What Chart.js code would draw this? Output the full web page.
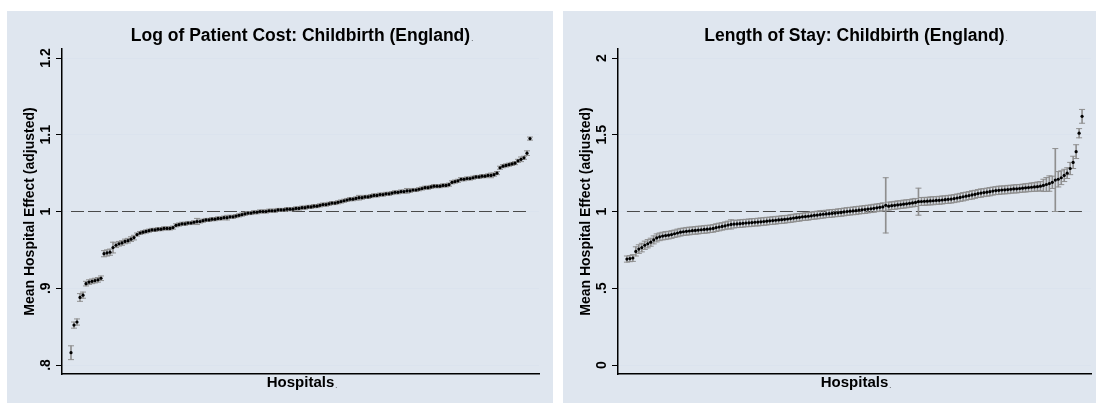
<!DOCTYPE html>
<html>
<head>
<meta charset="utf-8">
<script src="https://cdn.jsdelivr.net/npm/chart.js@4.4.0/dist/chart.umd.min.js"></script>
<style>
  html, body { margin: 0; padding: 0; background: #ffffff; }
  body { width: 1096px; height: 403px; position: relative; overflow: hidden; }
  .panel { position: absolute; top: 11px; height: 392px; background: #dfe6ef; }
  #costPanel { left: 7px; width: 546px; }
  #stayPanel { left: 563px; width: 533px; }
</style>
</head>
<body>
<div class="panel" id="costPanel"><canvas id="costChart"></canvas></div>
<div class="panel" id="stayPanel"><canvas id="stayChart"></canvas></div>
<script>
// Hospital effects, sorted by mean (one value per hospital)
const costMean = [
    0.816, 0.852, 0.856, 0.888, 0.891, 0.906, 0.908, 0.909, 0.910, 0.911, 0.913,
    0.945, 0.946, 0.947,
    0.953, 0.956, 0.958, 0.959, 0.961, 0.962, 0.964, 0.966,
    0.970, 0.972, 0.973, 0.974, 0.975, 0.976, 0.976, 0.977, 0.977, 0.978, 0.978, 0.978, 0.979,
    0.982, 0.983, 0.984, 0.984, 0.985, 0.985, 0.986, 0.987, 0.987, 0.988, 0.989, 0.989, 0.990,
    0.990, 0.991, 0.991, 0.992, 0.992, 0.993, 0.993, 0.994, 0.995, 0.996, 0.997, 0.998,
    0.998, 0.999, 0.999, 1.000, 1.000, 1.000, 1.001, 1.001, 1.001, 1.002, 1.002, 1.002,
    1.003, 1.003, 1.003, 1.004,
    1.004, 1.005, 1.005, 1.006, 1.006, 1.007, 1.007, 1.008, 1.009, 1.009, 1.010, 1.011,
    1.011, 1.012, 1.013, 1.014, 1.015,
    1.016, 1.016, 1.017, 1.018, 1.018, 1.019, 1.019, 1.020, 1.021, 1.021, 1.022, 1.022,
    1.023, 1.023, 1.024, 1.025, 1.025,
    1.026, 1.026, 1.027, 1.027, 1.028, 1.028, 1.029, 1.030, 1.031, 1.031, 1.032,
    1.033, 1.033, 1.033, 1.034, 1.034, 1.035, 1.038, 1.039, 1.040,
    1.042, 1.042, 1.043, 1.043, 1.044, 1.045, 1.045, 1.046, 1.046, 1.047, 1.047, 1.048,
    1.050, 1.057, 1.059, 1.060, 1.061, 1.062, 1.063, 1.066, 1.068, 1.070, 1.076, 1.095
];
// half-width of the confidence interval
const costErr = [
    0.009, 0.004, 0.004, 0.005, 0.004, 0.003, 0.003, 0.003, 0.003, 0.003, 0.003,
    0.004, 0.004, 0.004,
    0.007, 0.003, 0.003, 0.003, 0.003, 0.003, 0.003, 0.003,
    0.002, 0.002, 0.002, 0.002, 0.002, 0.002, 0.002, 0.002, 0.002, 0.002, 0.002, 0.002, 0.002,
    0.002, 0.002, 0.002, 0.002, 0.002, 0.002, 0.002, 0.004, 0.002, 0.002, 0.002, 0.002, 0.002,
    0.002, 0.002, 0.002, 0.002, 0.003, 0.002, 0.002, 0.002, 0.002, 0.002, 0.002, 0.002,
    0.002, 0.002, 0.002, 0.002, 0.002, 0.002, 0.002, 0.002, 0.002, 0.002, 0.002, 0.002,
    0.002, 0.002, 0.002, 0.002,
    0.002, 0.002, 0.002, 0.002, 0.002, 0.002, 0.002, 0.002, 0.002, 0.002, 0.002, 0.002,
    0.002, 0.002, 0.002, 0.002, 0.002,
    0.002, 0.002, 0.002, 0.003, 0.002, 0.002, 0.002, 0.002, 0.002, 0.002, 0.002, 0.002,
    0.002, 0.002, 0.002, 0.002, 0.002,
    0.002, 0.002, 0.003, 0.002, 0.002, 0.002, 0.002, 0.002, 0.002, 0.002, 0.002,
    0.002, 0.002, 0.002, 0.002, 0.002, 0.002, 0.002, 0.002, 0.002,
    0.002, 0.002, 0.002, 0.002, 0.002, 0.002, 0.002, 0.002, 0.002, 0.002, 0.003, 0.002,
    0.002, 0.002, 0.002, 0.002, 0.002, 0.002, 0.002, 0.002, 0.003, 0.002, 0.003, 0.002
];

const stayMean = [
    0.690, 0.693, 0.697,
    0.740, 0.755, 0.765, 0.780, 0.790, 0.800, 0.815, 0.828,
    0.835, 0.840, 0.843, 0.846, 0.850, 0.855, 0.860, 0.865, 0.868, 0.871,
    0.873, 0.875, 0.877, 0.879, 0.881, 0.883, 0.885, 0.887, 0.890,
    0.895, 0.899, 0.903, 0.907, 0.912, 0.916,
    0.918, 0.919, 0.921, 0.923, 0.925, 0.926, 0.928, 0.930, 0.931, 0.933, 0.935,
    0.937, 0.939, 0.941, 0.943, 0.945, 0.947, 0.949, 0.951, 0.954, 0.957, 0.960,
    0.962, 0.965, 0.967, 0.969, 0.972, 0.975, 0.977, 0.980,
    0.982, 0.984, 0.986, 0.988, 0.990, 0.992, 0.994, 0.997, 1.000,
    1.002, 1.004, 1.006, 1.009, 1.011, 1.013, 1.016, 1.018, 1.021, 1.024, 1.027, 1.030,
    1.040, 1.035, 1.038, 1.040, 1.043, 1.045, 1.048, 1.050, 1.053, 1.056, 1.059, 1.064,
    1.065, 1.066, 1.067, 1.069, 1.070, 1.072, 1.073, 1.075, 1.077, 1.079, 1.081, 1.084,
    1.088, 1.092, 1.096, 1.100, 1.104, 1.108, 1.112, 1.117,
    1.120, 1.123, 1.126, 1.129, 1.133, 1.136,
    1.138, 1.140, 1.141, 1.143, 1.145, 1.147, 1.148, 1.150, 1.152, 1.154, 1.156,
    1.158, 1.160, 1.162, 1.165,
    1.170, 1.176, 1.182, 1.190,
    1.205,
    1.210, 1.220, 1.235, 1.250, 1.280, 1.320, 1.390, 1.510, 1.620
];
const stayErr = [
    0.020, 0.020, 0.022,
    0.030, 0.028, 0.028, 0.027, 0.027, 0.026, 0.026, 0.026,
    0.025, 0.025, 0.026, 0.025, 0.025, 0.024, 0.025, 0.025, 0.024, 0.025,
    0.025, 0.024, 0.025, 0.025, 0.024, 0.025, 0.025, 0.024, 0.025,
    0.025, 0.025, 0.024, 0.025, 0.025, 0.030,
    0.025, 0.024, 0.025, 0.025, 0.024, 0.025, 0.025, 0.024, 0.025, 0.025, 0.025,
    0.025, 0.024, 0.025, 0.025, 0.024, 0.025, 0.025, 0.024, 0.025, 0.025, 0.025,
    0.025, 0.024, 0.025, 0.025, 0.024, 0.025, 0.025, 0.025,
    0.025, 0.024, 0.025, 0.025, 0.024, 0.025, 0.025, 0.025, 0.025,
    0.025, 0.025, 0.026, 0.025, 0.025, 0.026, 0.025, 0.025, 0.026, 0.025, 0.025, 0.026,
    0.180, 0.026, 0.025, 0.026, 0.026, 0.025, 0.026, 0.026, 0.025, 0.026, 0.026, 0.088,
    0.026, 0.026, 0.025, 0.026, 0.026, 0.025, 0.026, 0.026, 0.025, 0.026, 0.026, 0.026,
    0.026, 0.026, 0.027, 0.026, 0.026, 0.027, 0.026, 0.026,
    0.027, 0.026, 0.026, 0.027, 0.026, 0.026,
    0.027, 0.026, 0.026, 0.027, 0.026, 0.026, 0.027, 0.026, 0.026, 0.027, 0.027,
    0.028, 0.028, 0.030, 0.030,
    0.040, 0.045, 0.050, 0.040,
    0.205,
    0.050, 0.045, 0.040, 0.035, 0.040, 0.040, 0.045, 0.030, 0.045
];

// Axis settings per panel
const costTicks = [0.8, 0.9, 1.0, 1.1, 1.2];
const stayTicks = [0, 0.5, 1.0, 1.5, 2.0];

const panelBg = '#dfe6ef';
const gridColor = '#dbe3ee';
const barColor = '#8f8f8f';

Chart.defaults.font.family = '"Liberation Sans", Arial, Helvetica, sans-serif';

// Stata style tick label: .8 instead of 0.8
function stataLabel(value) {
    const s = String(Math.round(value * 100) / 100);
    return s.replace(/^0\./, '.');
}

// Title above the plot region plus the small trailing dots
const panelTitlePlugin = {
    id: 'panelTitle',
    afterDraw(chart, args, opts) {
        const {ctx, chartArea} = chart;
        const cx = (chartArea.left + chartArea.right) / 2;
        ctx.save();
        ctx.fillStyle = '#000000';
        ctx.textBaseline = 'alphabetic';

        ctx.font = 'bold 17.5px "Liberation Sans", Arial, sans-serif';
        ctx.textAlign = 'center';
        ctx.fillText(opts.text, cx, 30);
        const w = ctx.measureText(opts.text).width;
        ctx.font = '7px "Liberation Sans", Arial, sans-serif';
        ctx.textAlign = 'left';
        ctx.fillText('.', cx + w / 2 + 1, 30);

        // dot after the x axis title
        const xs = chart.scales.x;
        ctx.font = 'bold 15px "Liberation Sans", Arial, sans-serif';
        const xw = ctx.measureText(xs.options.title.text).width;
        ctx.font = '7px "Liberation Sans", Arial, sans-serif';
        ctx.fillText('.', cx + xw / 2 + 1, xs.bottom - 20 + 5);
        ctx.restore();
    }
};

function buildChart(canvasId, title, means, errs, ticks, rightPad) {
    const ranks = means.map((v, i) => i + 1);
    const step = ticks[1] - ticks[0];
    // 9px of empty space above the top tick and below the bottom tick (307px between them)
    const margin = (ticks[ticks.length - 1] - ticks[0]) * 9 / 307;

    const config = {
        type: 'scatter',
        data: {
            datasets: [
                {
                    // point estimates
                    type: 'scatter',
                    data: ranks.map((r, i) => ({x: r, y: means[i]})),
                    pointStyle: 'circle',
                    pointRadius: 1.6,
                    backgroundColor: '#000000',
                    borderWidth: 0,
                    order: 0
                },
                {
                    // upper caps
                    type: 'scatter',
                    data: ranks.map((r, i) => ({x: r, y: means[i] + errs[i]})),
                    pointStyle: 'line',
                    pointRadius: 3,
                    borderColor: barColor,
                    borderWidth: 1,
                    order: 1
                },
                {
                    // lower caps
                    type: 'scatter',
                    data: ranks.map((r, i) => ({x: r, y: means[i] - errs[i]})),
                    pointStyle: 'line',
                    pointRadius: 3,
                    borderColor: barColor,
                    borderWidth: 1,
                    order: 1
                },
                {
                    // confidence interval stems
                    type: 'bar',
                    data: ranks.map((r, i) => ({x: r, y: [means[i] - errs[i], means[i] + errs[i]]})),
                    barThickness: 1,
                    backgroundColor: barColor,
                    borderWidth: 0,
                    order: 2
                },
                {
                    // reference line at 1
                    type: 'line',
                    data: [{x: ranks[0], y: 1}, {x: ranks[ranks.length - 1], y: 1}],
                    borderColor: '#4a4a4a',
                    borderWidth: 1.2,
                    borderDash: [13, 4],
                    pointRadius: 0,
                    fill: false,
                    order: 3
                }
            ]
        },
        options: {
            responsive: true,
            maintainAspectRatio: false,
            animation: false,
            events: [],
            layout: {
                padding: {top: 38, left: 0, right: rightPad, bottom: 0}
            },
            plugins: {
                legend: {display: false},
                tooltip: {enabled: false},
                panelTitle: {text: title}
            },
            scales: {
                x: {
                    type: 'linear',
                    min: -2,
                    max: means.length + 3,
                    offset: false,
                    afterFit: scale => { scale.height = 29; },
                    border: {color: '#000000', width: 1.5},
                    grid: {display: false, drawTicks: false, offset: false},
                    ticks: {display: false},
                    title: {
                        display: true,
                        text: 'Hospitals',
                        color: '#000000',
                        font: {size: 15, weight: 'bold'},
                        padding: {top: 0, bottom: 11}
                    }
                },
                y: {
                    type: 'linear',
                    min: ticks[0] - margin,
                    max: ticks[ticks.length - 1] + margin,
                    beginAtZero: false,
                    afterFit: scale => { scale.width = 55; },
                    border: {color: '#000000', width: 1.5},
                    grid: {
                        color: gridColor,
                        lineWidth: 1,
                        tickLength: 6,
                        tickColor: '#000000',
                        tickWidth: 1
                    },
                    ticks: {
                        stepSize: step,
                        includeBounds: false,
                        minRotation: 90,
                        maxRotation: 90,
                        crossAlign: 'center',
                        padding: 0,
                        color: '#000000',
                        font: {size: 14, weight: 'bold'},
                        callback: value => stataLabel(value)
                    },
                    title: {
                        display: true,
                        text: 'Mean Hospital Effect (adjusted)',
                        color: '#000000',
                        font: {size: 14, weight: 'bold'},
                        padding: {top: 15, bottom: 0}
                    }
                }
            }
        },
        plugins: [panelTitlePlugin]
    };

    return new Chart(document.getElementById(canvasId), config);
}

buildChart('costChart', 'Log of Patient Cost: Childbirth (England)', costMean, costErr, costTicks, 14);
buildChart('stayChart', 'Length of Stay: Childbirth (England)', stayMean, stayErr, stayTicks, 1);
</script>
</body>
</html>
